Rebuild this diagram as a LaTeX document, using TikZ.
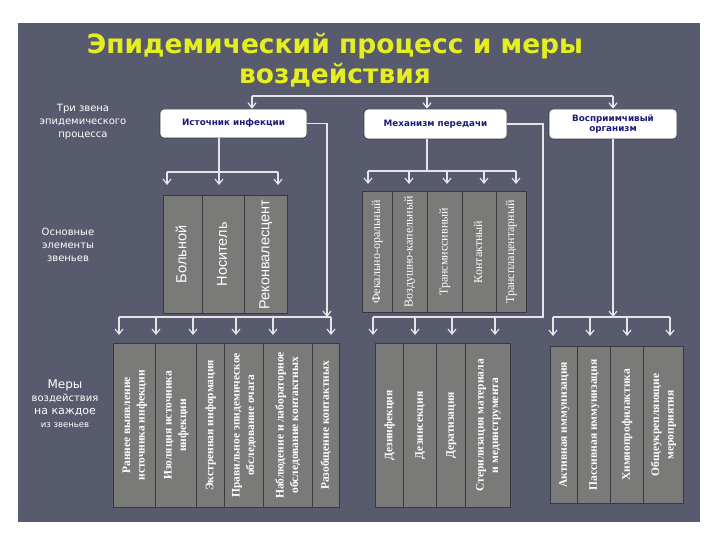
\documentclass[tikz,border=0pt]{standalone}
\usepackage{fontspec}
\setmainfont{Liberation Serif}
\setsansfont{Liberation Sans}
\newfontfamily\verd{DejaVu Sans}
\usepackage{graphicx}
\usetikzlibrary{arrows.meta}

\definecolor{slate}{HTML}{585B6D}
\definecolor{boxgray}{HTML}{7A7A79}
\definecolor{boxedge}{HTML}{38383E}
\definecolor{titleyellow}{HTML}{E4EE22}
\definecolor{navy}{HTML}{1C1C78}
\definecolor{wire}{HTML}{E4E4EA}

\tikzset{
  link/.style={draw=wire, line width=1.3pt},
  arr/.style={link, -{Straight Barb[length=5pt,width=8pt,line width=1.2pt]}},
  topbox/.style={draw=boxedge, fill=white, rounded corners=4pt, line width=0.6pt,
    inner sep=1pt, text=navy, align=center,
    font=\verd\bfseries\fontsize{8.8}{10.5}\selectfont},
  cell/.style={draw=boxedge, fill=boxgray, line width=0.8pt, inner sep=0pt,
    anchor=north west, text=white},
  cellsans/.style={cell, font=\sffamily\fontsize{14.5}{17}\selectfont},
  cellserif/.style={cell, font=\fontsize{12}{14}\selectfont},
  cellbold/.style={cell, font=\bfseries\fontsize{11.5}{14.5}\selectfont},
  side/.style={text=white, align=center, font=\verd\fontsize{10}{13}\selectfont},
}
\newcommand{\vlab}[1]{\rotatebox{90}{\begin{tabular}{@{}c@{}}#1\end{tabular}}}

\begin{document}
\begin{tikzpicture}[x=1pt, y=-1pt]
\useasboundingbox[fill=white] (0,0) rectangle (720,540);
\fill[slate] (18,23) rectangle (700,522);

% title
\node[text=titleyellow, align=center, font=\verd\bfseries\fontsize{26.5}{30}\selectfont]
  (title) at (335,60) {Эпидемический процесс и меры\\воздействия};

% row captions
\node[side] (capA) at (83,122) {Три звена\\эпидемического\\процесса};
\node[side] (capB) at (68,245) {Основные\\элементы\\звеньев};
\node[side] (capC) at (65,404) {{\fontsize{12}{13}\selectfont Меры}\\воздействия\\{\fontsize{11}{13}\selectfont на каждое}\\{\fontsize{8.5}{13}\selectfont из звеньев}};

% three links
\node[topbox, minimum width=147pt, minimum height=29pt] (src) at (233.5,123.5) {Источник инфекции};
\node[topbox, minimum width=143pt, minimum height=30pt] (mech) at (435.5,124) {Механизм передачи};
\node[topbox, minimum width=128pt, minimum height=30pt] (host) at (613,124) {Восприимчивый\\организм};

% elements of the links
\node[cellsans, minimum width=39pt, minimum height=118pt] (ill) at (163,195) {\vlab{Больной}};
\node[cellsans, minimum width=42pt, minimum height=118pt] (carr) at (202,195) {\vlab{Носитель}};
\node[cellsans, minimum width=43pt, minimum height=118pt] (conv) at (244,195) {\vlab{Реконвалесцент}};

\node[cellserif, minimum width=30pt, minimum height=121pt] (fec) at (362,191) {\vlab{Фекально-оральный}};
\node[cellserif, minimum width=35pt, minimum height=121pt] (air) at (392,191) {\vlab{Воздушно-капельный}};
\node[cellserif, minimum width=35pt, minimum height=121pt] (vect) at (427,191) {\vlab{Трансмиссивный}};
\node[cellserif, minimum width=34pt, minimum height=121pt] (cont) at (462,191) {\vlab{Контактный}};
\node[cellserif, minimum width=30pt, minimum height=121pt] (plac) at (496,191) {\vlab{Трансплацентарный}};

% measures
\node[cellbold, minimum width=42pt, minimum height=164pt] (early) at (113,343) {\vlab{Раннее выявление\\источника инфекции}};
\node[cellbold, minimum width=41pt, minimum height=164pt] (isol) at (155,343) {\vlab{Изоляция источника\\инфекции}};
\node[cellbold, minimum width=28pt, minimum height=164pt] (info) at (196,343) {\vlab{Экстренная информация}};
\node[cellbold, minimum width=39pt, minimum height=164pt] (focus) at (224,343) {\vlab{Правильное эпидемическое\\обследование очага}};
\node[cellbold, minimum width=49pt, minimum height=164pt] (obs) at (263,343) {\vlab{Наблюдение и лабораторное\\обследование контактных}};
\node[cellbold, minimum width=27pt, minimum height=164pt] (sep) at (312,343) {\vlab{Разобщение контактных}};

\node[cellbold, minimum width=28pt, minimum height=164pt] (dinf) at (375,343) {\vlab{Дезинфекция}};
\node[cellbold, minimum width=33pt, minimum height=164pt] (dins) at (403,343) {\vlab{Дезинсекция}};
\node[cellbold, minimum width=29pt, minimum height=164pt] (drat) at (436,343) {\vlab{Дератизация}};
\node[cellbold, minimum width=45pt, minimum height=164pt] (ster) at (465,343) {\vlab{Стерилизация материала\\и мединструмента}};

\node[cellbold, minimum width=27pt, minimum height=157pt] (act) at (550,346) {\vlab{Активная иммунизация}};
\node[cellbold, minimum width=33pt, minimum height=157pt] (pas) at (577,346) {\vlab{Пассивная иммунизация}};
\node[cellbold, minimum width=33pt, minimum height=157pt] (chem) at (610,346) {\vlab{Химиопрофилактика}};
\node[cellbold, minimum width=40pt, minimum height=157pt] (gen) at (643,346) {\vlab{Общеукрепляющие\\мероприятия}};

% top bar to the three links
\coordinate (tL) at (252,96);
\coordinate (tM) at (427,96);
\coordinate (tR) at (613,96);
\draw[link] (tL) -- (tR);
\draw[arr] (tL) -- (tL |- src.north);
\draw[arr] (tM) -- (tM |- mech.north);
\draw[arr] (tR) -- (host.north);

% source -> elements
\coordinate (s1) at (219,172);
\draw[link] (s1 |- src.south) -- (s1);
\draw[link] (167,0 |- s1) -- (278,0 |- s1);
\foreach \x in {167,219,278}
  \draw[arr, shorten >=10pt] (\x,0 |- s1) -- (\x,0 |- ill.north);

% mechanism -> routes
\coordinate (s2) at (427,171);
\draw[link] (s2 |- mech.south) -- (s2);
\draw[link] (368,0 |- s2) -- (516,0 |- s2);
\foreach \x in {368,409,447,484,516}
  \draw[arr, shorten >=7pt] (\x,0 |- s2) -- (\x,0 |- fec.north);

% source -> measures
\coordinate (m1) at (327,317);
\draw[arr] (src.east) -- (m1 |- src.east) -- (m1);
\draw[link] (119,0 |- m1) -- (331,0 |- m1);
\foreach \x in {119,156,193,236,273,331}
  \draw[arr, shorten >=8pt] (\x,0 |- m1) -- (\x,0 |- early.north);

% mechanism -> measures
\coordinate (m2) at (543,317);
\draw[link] (mech.east) -- (m2 |- mech.east) -- (m2) -- (373,0 |- m2);
\foreach \x in {373,415,452,495}
  \draw[arr, shorten >=8pt] (\x,0 |- m2) -- (\x,0 |- dinf.north);

% host -> measures
\coordinate (m3) at (613,317);
\draw[arr] (host.south) -- (m3);
\draw[link] (553,0 |- m3) -- (670,0 |- m3);
\foreach \x in {553,590,627,670}
  \draw[arr, shorten >=10pt] (\x,0 |- m3) -- (\x,0 |- act.north);
\end{tikzpicture}
\end{document}
